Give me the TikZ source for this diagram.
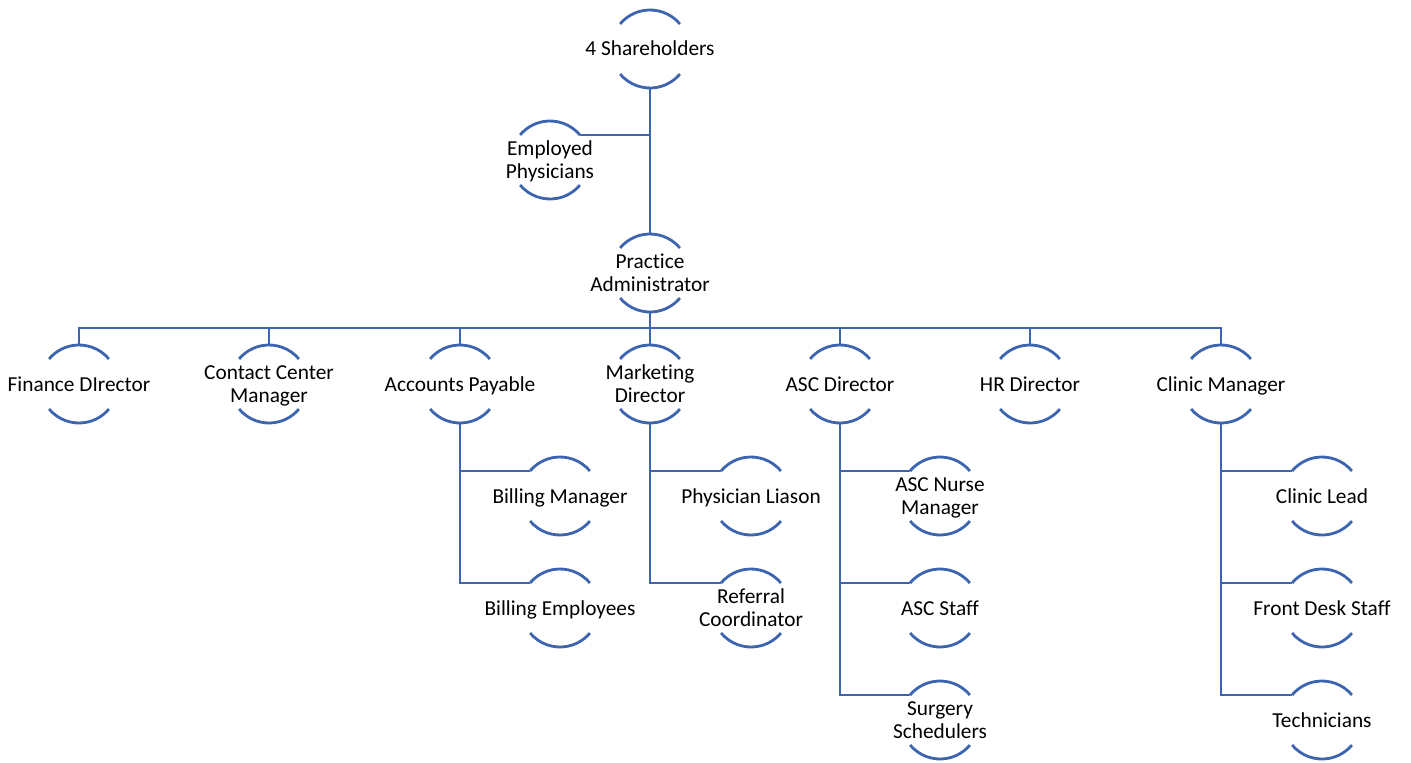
\documentclass[tikz,border=0pt]{standalone}
\usepackage{fontspec}
\setmainfont{Carlito}[Ligatures=NoCommon]
\definecolor{orgblue}{RGB}{60,100,175}
\tikzset{
  lbl/.style={inner sep=0pt, align=center, font=\fontsize{21.4}{23}\selectfont, text=black},
  arcline/.style={draw=orgblue, line width=2.8bp},
  conn/.style={draw=orgblue, line width=2.8bp}
}
\newcommand{\orgunit}[3]{%
  \coordinate (#1) at (#2);
  \node[lbl] (#1-txt) at ([yshift=-1.75bp]#1) {\rule{0pt}{16bp}#3\rule[-5.5bp]{0pt}{5.5bp}};
  \draw[arcline] ([shift={(40:39)}]#1) arc[start angle=40,end angle=140,radius=39];
  \draw[arcline] ([shift={(220:39)}]#1) arc[start angle=220,end angle=320,radius=39];
  \coordinate (#1-t) at ([shift={(90:39)}]#1);
  \coordinate (#1-b) at ([shift={(270:39)}]#1);
  \coordinate (#1-l) at ([shift={(140:39)}]#1);
  \coordinate (#1-r) at ([shift={(40:39)}]#1);
}
\begin{document}
\begin{tikzpicture}[x=1bp,y=1bp]
\useasboundingbox (0,0) rectangle (1411,-762);
\orgunit{sh}{650,-49}{4 Shareholders}
\orgunit{ep}{550,-160}{Employed\\Physicians}
\orgunit{pa}{650,-273}{Practice\\Administrator}
\orgunit{fd}{79,-384}{Finance DIrector}
\orgunit{cc}{269,-384}{Contact Center\\Manager}
\orgunit{ap}{460,-384}{Accounts Payable}
\orgunit{md}{650,-384}{Marketing\\Director}
\orgunit{ad}{840,-384}{ASC Director}
\orgunit{hr}{1030,-384}{HR Director}
\orgunit{cm}{1221,-384}{Clinic Manager}
\orgunit{bm}{560,-496}{Billing Manager}
\orgunit{be}{560,-608}{Billing Employees}
\orgunit{pl}{751,-496}{Physician Liason}
\orgunit{rc}{751,-608}{Referral\\Coordinator}
\orgunit{an}{940,-496}{ASC Nurse\\Manager}
\orgunit{as}{940,-608}{ASC Staff}
\orgunit{ss}{940,-720}{Surgery\\Schedulers}
\orgunit{cl}{1322,-496}{Clinic Lead}
\orgunit{fs}{1322,-608}{Front Desk Staff}
\orgunit{te}{1322,-720}{Technicians}
\coordinate (bus) at (650,-328);
% top
\draw[conn] (sh-b) -- (pa-t);
\draw[conn] (ep-r) -- (sh-b |- ep-r);
% bus
\draw[conn] (pa-b) -- (pa-b |- bus);
\draw[conn, line cap=rect] (fd-t |- bus) -- (cm-t |- bus);
\foreach \n in {fd,cc,ap,md,ad,hr,cm} \draw[conn] (\n-t) -- (\n-t |- bus);
% accounts payable
\draw[conn] (ap-b) |- (be-l);
\draw[conn] (ap-b |- bm-l) -- (bm-l);
% marketing
\draw[conn] (md-b) |- (rc-l);
\draw[conn] (md-b |- pl-l) -- (pl-l);
% asc
\draw[conn] (ad-b) |- (ss-l);
\draw[conn] (ad-b |- an-l) -- (an-l);
\draw[conn] (ad-b |- as-l) -- (as-l);
% clinic
\draw[conn] (cm-b) |- (te-l);
\draw[conn] (cm-b |- cl-l) -- (cl-l);
\draw[conn] (cm-b |- fs-l) -- (fs-l);
\end{tikzpicture}
\end{document}
